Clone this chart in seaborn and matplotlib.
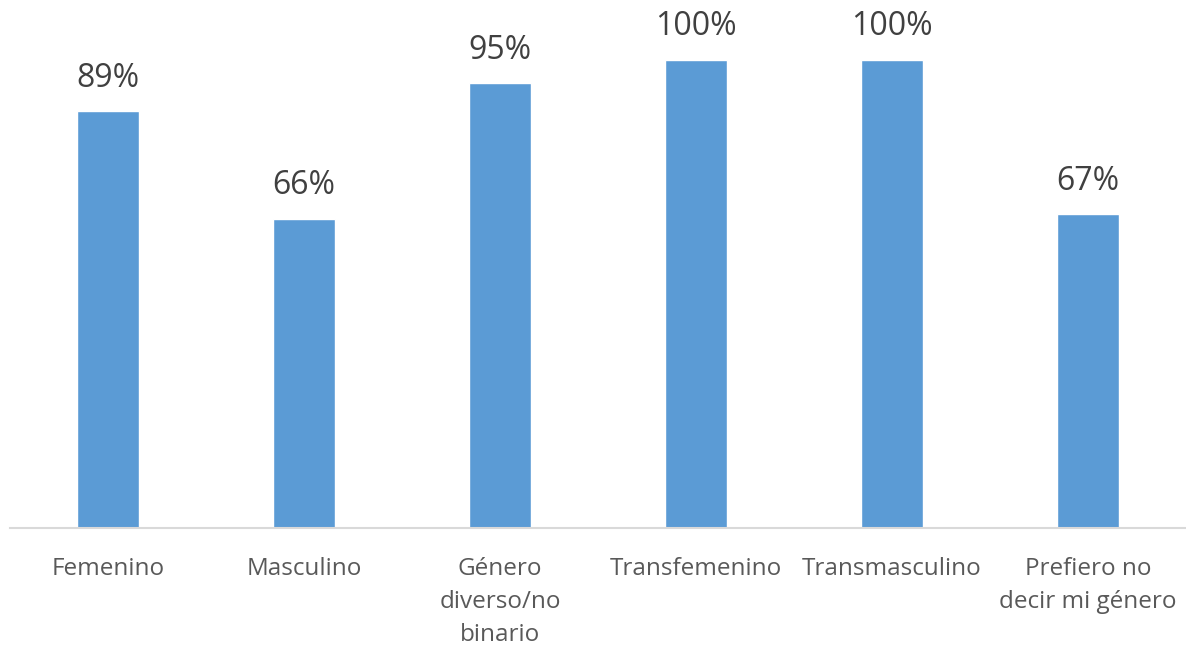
#!/usr/bin/env python3
# bar chart: percentage by gender identity

import pandas as pd
import matplotlib
matplotlib.use("Agg")
import matplotlib.pyplot as plt
import seaborn as sns

categorias = [
    "Femenino",
    "Masculino",
    "Género\ndiverso/no\nbinario",
    "Transfemenino",
    "Transmasculino",
    "Prefiero no\ndecir mi género",
]
porcentajes = [89, 66, 95, 100, 100, 67]

BAR_COLOR = "#5B9BD5"
LABEL_COLOR = "#404040"
TICK_COLOR = "#595959"

sns.set_theme(style="white")
plt.rcParams["font.family"] = ["Open Sans", "DejaVu Sans"]

df = pd.DataFrame({"categoria": categorias, "pct": porcentajes})

fig = plt.figure(figsize=(11.86, 6.5), dpi=100)
ax = fig.add_axes([10 / 1186, 122 / 650, 1176 / 1186, 468 / 650])

sns.barplot(data=df, x="categoria", y="pct", color=BAR_COLOR, width=0.32,
            saturation=1, ax=ax)

ax.set_ylim(0, 100)
ax.set_xlim(-0.5, len(categorias) - 0.5)

# value labels on top of bars
for i, v in enumerate(porcentajes):
    ax.annotate(f"{v}%", xy=(i, v), xytext=(0, 12), textcoords="offset points",
                ha="center", va="bottom", fontsize=23, color=LABEL_COLOR,
                clip_on=False)

ax.set_xlabel("")
ax.set_ylabel("")
ax.set_yticks([])
ax.tick_params(axis="x", length=0, pad=21, labelsize=17.5, labelcolor=TICK_COLOR)
for lbl in ax.get_xticklabels():
    lbl.set_linespacing(1.5)
    lbl.set_va("top")

for side in ["left", "right", "top"]:
    ax.spines[side].set_visible(False)
ax.spines["bottom"].set_color("#D9D9D9")
ax.spines["bottom"].set_linewidth(1.5)

fig.savefig("out.png", dpi=100)
